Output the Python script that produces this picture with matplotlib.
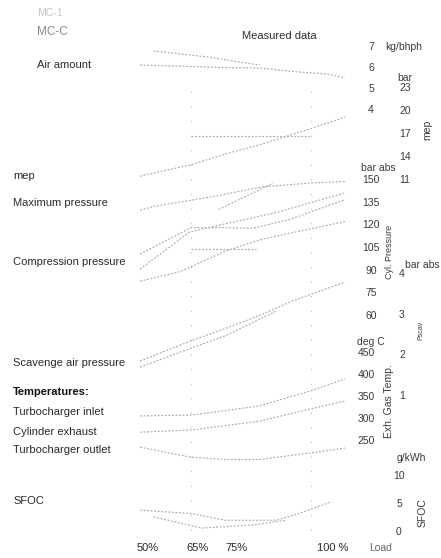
import matplotlib
matplotlib.use("Agg")
import matplotlib.pyplot as plt
from matplotlib.transforms import blended_transform_factory

plt.rcParams['font.family'] = ['Liberation Sans', 'DejaVu Sans']

# ---- measured data (read off the scanned diagram) ----
# air amount, kg/bhph
air_load = [50, 65, 75, 85, 95, 105, 110]
air = [6.14, 6.07, 6.02, 6.0, 5.83, 5.71, 5.52]
air2_load = [54, 70, 79, 85]
air2 = [6.81, 6.52, 6.29, 6.14]

# mep, bar
mep_load = [50, 65, 75, 85, 100, 110]
mep = [11.5, 13.0, 14.4, 15.6, 17.7, 19.2]
mep_ref_load = [65, 100]
mep_ref = [16.7, 16.7]

# cylinder pressures, bar abs
pmax_load = [50, 54, 70, 86, 100, 110]
pmax = [130, 132.5, 138.5, 145.5, 148, 149]
pmax2_load = [50, 65, 75, 83, 94, 110]
pmax2 = [101, 118.5, 118.5, 118, 124, 137]
pcomp_load = [50, 64.5, 73, 90, 110]
pcomp = [91, 115.5, 120, 128.5, 141.5]
pcomp2_load = [50, 62, 75, 86, 110]
pcomp2 = [83, 89.5, 103, 111, 122.5]
pshort_load = [73, 89]
pshort = [130.5, 148]
pref_load = [65, 84]
pref = [104.5, 104.5]

# scavenge air pressure, bar abs
scav_load = [50, 65, 75, 85, 95, 110]
scav = [1.86, 2.36, 2.66, 2.98, 3.35, 3.80]
scav2_load = [50, 65, 75, 90]
scav2 = [1.71, 2.18, 2.48, 3.09]

# exhaust gas temperatures, deg C
temp_load = [50, 65, 75, 85, 100, 110]
tc_in = [307, 309, 319, 330, 364, 391]
cyl_ex = [270, 275, 285, 295, 323, 341]
tc_out = [236, 213, 208, 208, 223, 234]

# SFOC, g/kWh
sfoc_load = [50, 65, 75, 90, 97, 106]
sfoc = [3.9, 3.3, 2.1, 2.1, 3.4, 5.4]
sfoc2_load = [54, 68, 83, 93]
sfoc2 = [2.7, 0.7, 1.25, 2.1]

load_ticks = [50, 65, 75, 100]
load_labels = ["50%", "65%", "75%", "100 %"]

W, H = 441, 558
fig = plt.figure(figsize=(W / 100, H / 100), dpi=100)
ax = fig.add_axes([140 / W, 0, 205 / W, 1])
ax.set_xlim(50, 110)
ax.axis('off')


def twin(v1, p1, v2, p2):
    # own y scale: value v1 at pixel row p1, v2 at row p2
    t = ax.twinx()
    s = (v2 - v1) / (p2 - p1)
    t.set_ylim(v1 + s * (H - p1), v1 - s * p1)
    t.axis('off')
    return t


def P(x, y):
    return x / W, 1 - y / H


txt = '#2a2a2a'
num = '#3a3a3a'
lc = '#acacac'
ls = (0, (1.6, 1.4))

t_air = twin(7, 47, 4, 110)
t_mep = twin(23, 88, 11, 180)
t_p = twin(150, 180, 60, 316)
t_sc = twin(4, 274, 1, 396)
t_t = twin(450, 353, 250, 441)
t_sf = twin(10, 476, 0, 532)

for t, xs, ys in [(t_air, air_load, air), (t_air, air2_load, air2),
                  (t_mep, mep_load, mep), (t_mep, mep_ref_load, mep_ref),
                  (t_p, pmax_load, pmax), (t_p, pmax2_load, pmax2),
                  (t_p, pcomp_load, pcomp), (t_p, pcomp2_load, pcomp2),
                  (t_p, pshort_load, pshort), (t_p, pref_load, pref),
                  (t_sc, scav_load, scav), (t_sc, scav2_load, scav2),
                  (t_t, temp_load, tc_in), (t_t, temp_load, cyl_ex),
                  (t_t, temp_load, tc_out),
                  (t_sf, sfoc_load, sfoc), (t_sf, sfoc2_load, sfoc2)]:
    t.plot(xs, ys, color=lc, lw=0.85, ls=ls)

for xv in [65, 100]:
    ax.axvline(xv, ymin=0.05, ymax=0.86, color=lc, lw=0.7, ls=(0, (1, 14)))


def rticks(t, vals, xpx, size=7.5):
    tr = blended_transform_factory(fig.transFigure, t.transData)
    for v in vals:
        fig.text(xpx / W, v, str(v), transform=tr, ha='center', va='center',
                 fontsize=size, color=num)


rticks(t_air, [7, 6, 5, 4], 371)
rticks(t_mep, [23, 20, 17, 14, 11], 405)
rticks(t_p, [150, 135, 120, 105, 90, 75, 60], 371)
rticks(t_sc, [4, 3, 2, 1], 402)
rticks(t_t, [450, 400, 350, 300, 250], 366)
rticks(t_sf, [10, 5, 0], 399)

units = [("kg/bhph", 385, 47), ("bar", 397, 78), ("bar abs", 361, 168),
         ("bar abs", 405, 265), ("deg C", 357, 342), ("g/kWh", 397, 458)]
for s, x, y in units:
    fig.text(*P(x, y), s, ha='left', va='center', fontsize=7.5, color=num)

for s, x, y, fs in [("mep", 427, 130, 7.5), ("Cyl. Pressure", 390, 252, 6.5),
                    ("Pscav", 421, 330, 5), ("Exh. Gas Temp.", 389, 401, 7.5),
                    ("SFOC", 423, 513, 7.5)]:
    fig.text(*P(x, y), s, rotation=90, ha='center', va='center',
             fontsize=fs, color=num)

fig.text(*P(37, 13), "MC-1", fontsize=7.5, color='#c4c4c4', va='center')
fig.text(*P(37, 32), "MC-C", fontsize=8.5, color='#8a8a8a', va='center')
fig.text(*P(242, 36), "Measured data", fontsize=8, color=txt, va='center')
fig.text(*P(37, 65), "Air amount", fontsize=8, color=txt, va='center')

left = [("mep", 176), ("Maximum pressure", 203), ("Compression pressure", 262),
        ("Scavenge air pressure", 363), ("Turbocharger inlet", 412),
        ("Cylinder exhaust", 432), ("Turbocharger outlet", 450), ("SFOC", 501)]
for s, y in left:
    fig.text(*P(13, y), s, fontsize=8, color=txt, va='center')
fig.text(*P(13, 392), "Temperatures:", fontsize=8, color='#111111',
         va='center', fontweight='bold')

for xv, dx, s in zip(load_ticks, [-1, -1.5, 0, 1.8], load_labels):
    ax.text(xv + dx, 1 - 548 / H, s, transform=ax.get_xaxis_transform(),
            ha='left', va='center', fontsize=8, color=txt)
fig.text(*P(369, 548), "Load", fontsize=7.5, color='#666666', va='center')

fig.savefig("out.png", dpi=100)
